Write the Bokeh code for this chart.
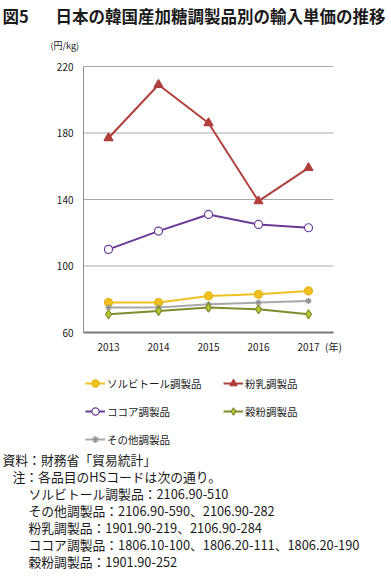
from bokeh.plotting import figure
from bokeh.models import Label, Legend, LegendItem, Range1d, FixedTicker, LinearAxis
from bokeh.embed import file_html
from bokeh.resources import INLINE

years = [2013, 2014, 2015, 2016, 2017]
sorbitol = [78, 78, 82, 83, 85]
milk = [177, 209, 186, 139, 159]
cocoa = [110, 121, 131, 125, 123]
grain = [71, 73, 75, 74, 71]
other = [75, 75, 77, 78, 79]
y_ticks = [60, 100, 140, 180, 220]

names = ["ソルビトール調製品", "粉乳調製品", "ココア調製品", "穀粉調製品", "その他調製品"]
fig_no = "図5"
title_text = "日本の韓国産加糖調製品別の輸入単価の推移"
unit_text = "(円/kg)"
year_unit = "(年)"
notes = [
    "資料：財務省「貿易統計」",
    "注：各品目のHSコードは次の通り。",
    "ソルビトール調製品：2106.90-510",
    "その他調製品：2106.90-590、2106.90-282",
    "粉乳調製品：1901.90-219、2106.90-284",
    "ココア調製品：1806.10-100、1806.20-111、1806.20-190",
    "穀粉調製品：1901.90-252",
]

# ---- page geometry (pixels of the 391x576 page; figure sits at its top-left) ----
W, H = 391, 576
PL, PR, PT, PB = 83, 333, 66, 332          # chart plot-area box on the page
X0, X1 = 2012.5, 2017.5                    # chart x extent (years)
Y0, Y1 = 60, 220                           # chart y extent (yen/kg)
kx = (PR - PL) / (X1 - X0)
ky = (PB - PT) / (Y1 - Y0)
x_range = Range1d(X0 - PL / kx, X1 + (W - PR) / kx)
y_range = Range1d(Y0 - (H - PB) / ky, Y1 + PT / ky)

FONT = "Noto Sans CJK JP"
TXT = "#1a1a1a"

p = figure(width=W, height=H, output_backend="svg", toolbar_location=None,
           x_range=x_range, y_range=y_range,
           x_axis_location=None, y_axis_location=None, min_border=0)
p.outline_line_color = None
p.grid.visible = False

# horizontal grid lines limited to the chart box
p.segment(x0=X0, x1=X1, y0=y_ticks, y1=y_ticks, line_color="#a8a8a8", line_width=1)

xax = LinearAxis(fixed_location=Y0, bounds=(X0, X1),
                 ticker=FixedTicker(ticks=years + [X1]))
xax.major_label_overrides = {X1: year_unit}
yax = LinearAxis(fixed_location=X0, bounds=(Y0, Y1), ticker=FixedTicker(ticks=y_ticks))
for ax in (xax, yax):
    ax.major_tick_line_color = None
    ax.minor_tick_line_color = None
    ax.major_tick_out = 0
    ax.major_tick_in = 0
    ax.minor_tick_out = 0
    ax.major_label_text_font = FONT
    ax.major_label_text_font_size = "10px"
    ax.major_label_text_color = TXT
    ax.axis_line_color = "#8c8c8c"
xax.axis_line_width = 2
xax.axis_line_color = "#7a7a7a"
yax.major_label_standoff = 10
xax.major_label_standoff = 6
p.add_layout(xax, "below")
p.add_layout(yax, "left")

colors = {
    "sorb": ("#f0c020", "#f0c020", "#e6b414"),
    "milk": ("#b0403c", "#b0403c", "#b0403c"),
    "cocoa": ("#6a3a96", "white", "#6a3a96"),
    "grain": ("#7f8a2a", "#b8c830", "#7f8a2a"),
    "other": ("#a8a8a8", "#909090", "#909090"),
}
series = [("sorb", sorbitol, "circle", 8), ("milk", milk, "triangle", 9),
          ("cocoa", cocoa, "circle", 8), ("other", other, "asterisk", 6),
          ("grain", grain, "diamond", 9)]
rend = {}
for key, ys, mk, sz in series:
    lc, fc, mc = colors[key]
    r1 = p.line(years, ys, line_color=lc, line_width=2)
    r2 = p.scatter(years, ys, marker=mk, size=sz, fill_color=fc, line_color=mc, line_width=1.2)
    rend[key] = [r1, r2]


def add_text(x, y, t, size="12.8px", bold=False, align="left"):
    p.add_layout(Label(x=x, y=H - y, x_units="screen", y_units="screen",
                       text=t, text_font=FONT, text_font_size=size,
                       text_font_style="bold" if bold else "normal",
                       text_baseline="middle", text_align=align, text_color=TXT))


add_text(2, 15, fig_no, size="16.5px", bold=True)
add_text(55, 15, title_text, size="16.5px", bold=True)
add_text(50, 45, unit_text, size="9px")

col1 = [LegendItem(label=names[0], renderers=rend["sorb"]),
        LegendItem(label=names[2], renderers=rend["cocoa"]),
        LegendItem(label=names[4], renderers=rend["other"])]
col2 = [LegendItem(label=names[1], renderers=rend["milk"]),
        LegendItem(label=names[3], renderers=rend["grain"])]
for items, x, yb in ((col1, 85, 448), (col2, 223, 420)):
    lg = Legend(items=items, location=(x, H - yb), orientation="vertical",
                background_fill_alpha=0, border_line_color=None, padding=0, margin=0,
                spacing=10, glyph_width=20, glyph_height=18, label_standoff=2,
                label_text_font=FONT, label_text_font_size="10.5px", label_height=18,
                label_text_color=TXT)
    p.add_layout(lg)

add_text(2, 459, notes[0])
add_text(12, 476, notes[1])
for i, t in enumerate(notes[2:]):
    add_text(28, 493 + i * 17, t)

open("out.html", "w").write(file_html(p, INLINE))
